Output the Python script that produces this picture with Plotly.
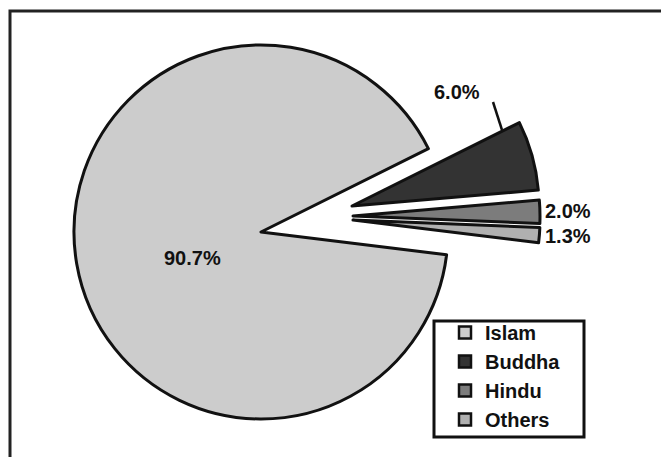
import plotly.graph_objects as go

# ---- data ----
labels = ["Islam", "Buddha", "Hindu", "Others"]
values = [90.7, 6.0, 2.0, 1.3]
colors = ["#cccccc", "#333333", "#7c7c7c", "#b0b0b0"]

# ---- layout geometry (pixels of the 661x457 page) ----
W, H = 661, 457
R = 187
centers = [(261, 232), (352, 206), (353, 216), (353, 220)]   # Islam at rest, others exploded
label_pos = [(192, 258, "center"), (457, 92, "center"), (543, 211, "left"), (543, 236, "left")]
TRANSPARENT = "rgba(0,0,0,0)"
FONT = "Arial, Liberation Sans, sans-serif"


def dom(cx, cy, r=R):
    return dict(x=[(cx - r) / W, (cx + r) / W], y=[(H - cy - r) / H, (H - cy + r) / H])


fig = go.Figure()

# legend-only trace: a tiny pie hidden under the legend box, carrying the real colours
fig.add_trace(go.Pie(
    labels=labels, values=values, sort=False, direction="clockwise", rotation=97,
    marker=dict(colors=colors, line=dict(color="#111111", width=2.5)),
    textinfo="none", hoverinfo="skip", showlegend=True,
    domain=dom(560, 420, 0.5),
))

# one pie per slice so each slice can be exploded on its own
for i, lab in enumerate(labels):
    cols = [colors[j] if j == i else TRANSPARENT for j in range(len(labels))]
    widths = [3 if j == i else 0 for j in range(len(labels))]
    fig.add_trace(go.Pie(
        labels=labels, values=values, sort=False, direction="clockwise", rotation=97,
        marker=dict(colors=cols, line=dict(color="#111111", width=widths)),
        textinfo="none", hoverinfo="label+percent", showlegend=False,
        domain=dom(*centers[i]),
    ))

# percentage labels
for v, (px, py, anc) in zip(values, label_pos):
    fig.add_annotation(
        x=px / W, y=1 - py / H, xref="paper", yref="paper",
        text=f"{v:.1f}%", showarrow=False, xanchor=anc, yanchor="middle",
        font=dict(family=FONT, size=20, color="#111111", weight=700),
    )

# leader line for the 6.0% label
fig.add_shape(type="line", xref="paper", yref="paper",
              x0=493 / W, y0=1 - 102 / H, x1=502 / W, y1=1 - 130 / H,
              line=dict(color="#111111", width=2.5))

# outer frame (top and left edges visible)
fig.add_shape(type="rect", xref="paper", yref="paper",
              x0=10 / W, y0=-0.1, x1=1.1, y1=1 - 11 / H,
              line=dict(color="#222222", width=3), fillcolor="rgba(0,0,0,0)", layer="below")

# legend box
fig.add_shape(type="rect", xref="paper", yref="paper",
              x0=434 / W, y0=1 - 437 / H, x1=584 / W, y1=1 - 321 / H,
              line=dict(color="#111111", width=3), fillcolor="white", layer="above")

fig.update_layout(
    width=W, height=H,
    margin=dict(l=0, r=0, t=0, b=0),
    paper_bgcolor="white", plot_bgcolor="white",
    showlegend=True,
    legend=dict(
        x=437 / W, y=1 - 313 / H, xanchor="left", yanchor="top",
        bgcolor="rgba(0,0,0,0)", borderwidth=0,
        font=dict(family=FONT, size=20, color="#111111", weight=700),
        indentation=8, traceorder="normal",
    ),
)

fig.write_html(
    "out.html",
    config={"displayModeBar": False},
    post_script="document.body.style.margin='0';document.body.style.overflow='hidden';",
)
